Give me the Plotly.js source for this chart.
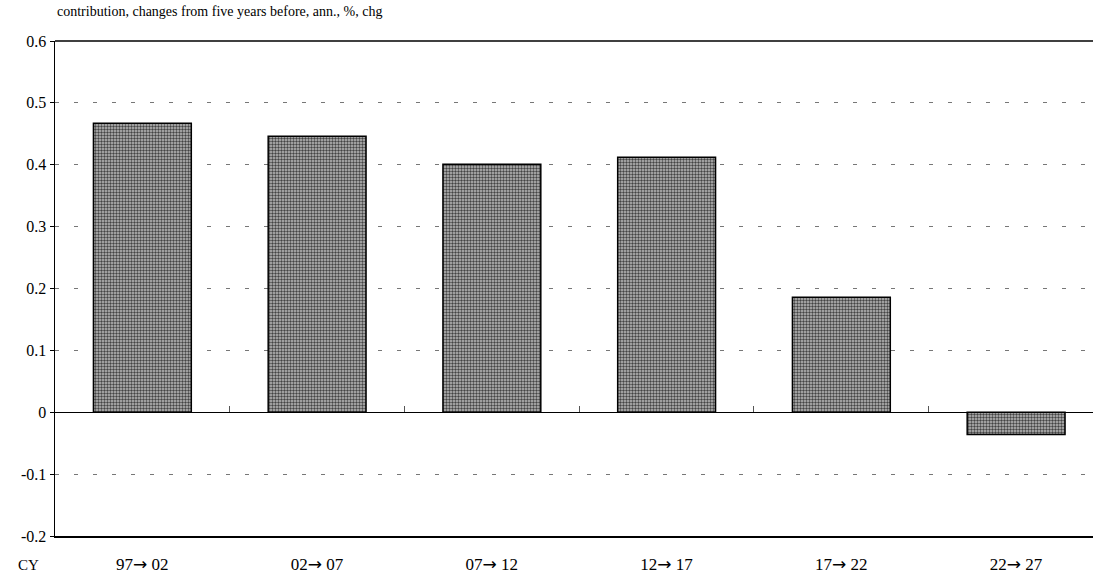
<!DOCTYPE html>
<html>
<head>
<meta charset="utf-8">
<script src="https://cdn.plot.ly/plotly-3.0.1.min.js"></script>
<style>
  html, body { margin: 0; padding: 0; background: #fff; }
  #chart { width: 1093px; height: 580px; }
</style>
</head>
<body>
<div id="chart"></div>
<script>
// periods (calendar years, five-year steps)
var periods = ['97\u2192 02', '02\u2192 07', '07\u2192 12', '12\u2192 17', '17\u2192 22', '22\u2192 27'];
// contribution, change from five years before, annualized %
var contribution = [0.467, 0.446, 0.401, 0.412, 0.186, -0.036];

var yTicks = [-0.2, -0.1, 0, 0.1, 0.2, 0.3, 0.4, 0.5, 0.6];
var yTickText = ['-0.2', '-0.1', '0', '0.1', '0.2', '0.3', '0.4', '0.5', '0.6'];

var serif = 'Liberation Serif';

// the arrow is drawn with a font whose arrow sits at mid height, like the original
var periodLabels = periods.map(function (p) {
  return p.replace('\u2192', '<span style="font-family:DejaVu Sans">\u2192</span>');
});

// the original frame is a bit wider than the page, so the last slot is cut on the right
var xRange = [-0.5, 5.44];

var data = [{
  type: 'bar',
  x: periods,
  y: contribution,
  marker: {
    color: '#8c8c8c',
    line: {color: '#000', width: 1.5},
    pattern: {shape: '.', size: 3, solidity: 0.5, fgcolor: '#444', bgcolor: '#bdbdbd', fillmode: 'replace'}
  },
  hoverinfo: 'x+y'
}, {
  // invisible copy so the zero-line tick axis gets drawn
  type: 'bar',
  x: periods,
  y: contribution,
  xaxis: 'x2',
  marker: {color: 'rgba(0,0,0,0)'},
  hoverinfo: 'skip'
}];

var layout = {
  width: 1093,
  height: 580,
  margin: {l: 55, r: 0, t: 41, b: 44},
  paper_bgcolor: '#fff',
  plot_bgcolor: '#fff',
  showlegend: false,
  bargap: 0.44,
  barmode: 'overlay',
  font: {family: serif, size: 15, color: '#000'},
  xaxis: {
    type: 'category',
    range: xRange,
    tickvals: periods,
    ticktext: periodLabels,
    showline: true,
    linecolor: '#000',
    linewidth: 1.5,
    ticks: 'outside',
    ticklen: 12,
    tickcolor: 'rgba(0,0,0,0)',
    showgrid: false,
    tickfont: {family: serif, size: 17, color: '#000'},
    fixedrange: true
  },
  // little ticks sitting on the zero line between the periods
  xaxis2: {
    type: 'category',
    overlaying: 'x',
    range: xRange,
    anchor: 'free',
    position: 0.25,
    side: 'bottom',
    tickson: 'boundaries',
    ticks: 'inside',
    ticklen: 6,
    tickcolor: '#555',
    tickwidth: 1,
    showticklabels: false,
    showline: false,
    showgrid: false,
    fixedrange: true
  },
  yaxis: {
    range: [-0.2, 0.6],
    tickvals: yTicks,
    ticktext: yTickText,
    ticks: 'outside',
    ticklen: 4,
    tickcolor: '#000',
    showline: true,
    linecolor: '#000',
    linewidth: 1.5,
    showgrid: true,
    gridcolor: '#777',
    gridwidth: 1,
    griddash: '4px,15px',
    zeroline: true,
    zerolinecolor: '#000',
    zerolinewidth: 1,
    tickfont: {family: serif, size: 16, color: '#000'},
    fixedrange: true
  },
  shapes: [{
    type: 'line', xref: 'paper', yref: 'paper',
    x0: 0, x1: 1, y0: 1, y1: 1,
    line: {color: '#000', width: 1.5}
  }],
  annotations: [{
    text: 'contribution, changes from five years before, ann., %, chg',
    xref: 'paper', yref: 'paper', x: 0, y: 1,
    xanchor: 'left', yanchor: 'bottom', yshift: 20,
    showarrow: false,
    font: {family: serif, size: 14, color: '#000'}
  }, {
    text: 'CY',
    xref: 'paper', yref: 'paper', x: 0, y: 0,
    xanchor: 'right', yanchor: 'top', xshift: -14, yshift: -19,
    showarrow: false,
    font: {family: serif, size: 15, color: '#000'}
  }]
};

Plotly.newPlot('chart', data, layout, {displayModeBar: false, staticPlot: true});
</script>
</body>
</html>
